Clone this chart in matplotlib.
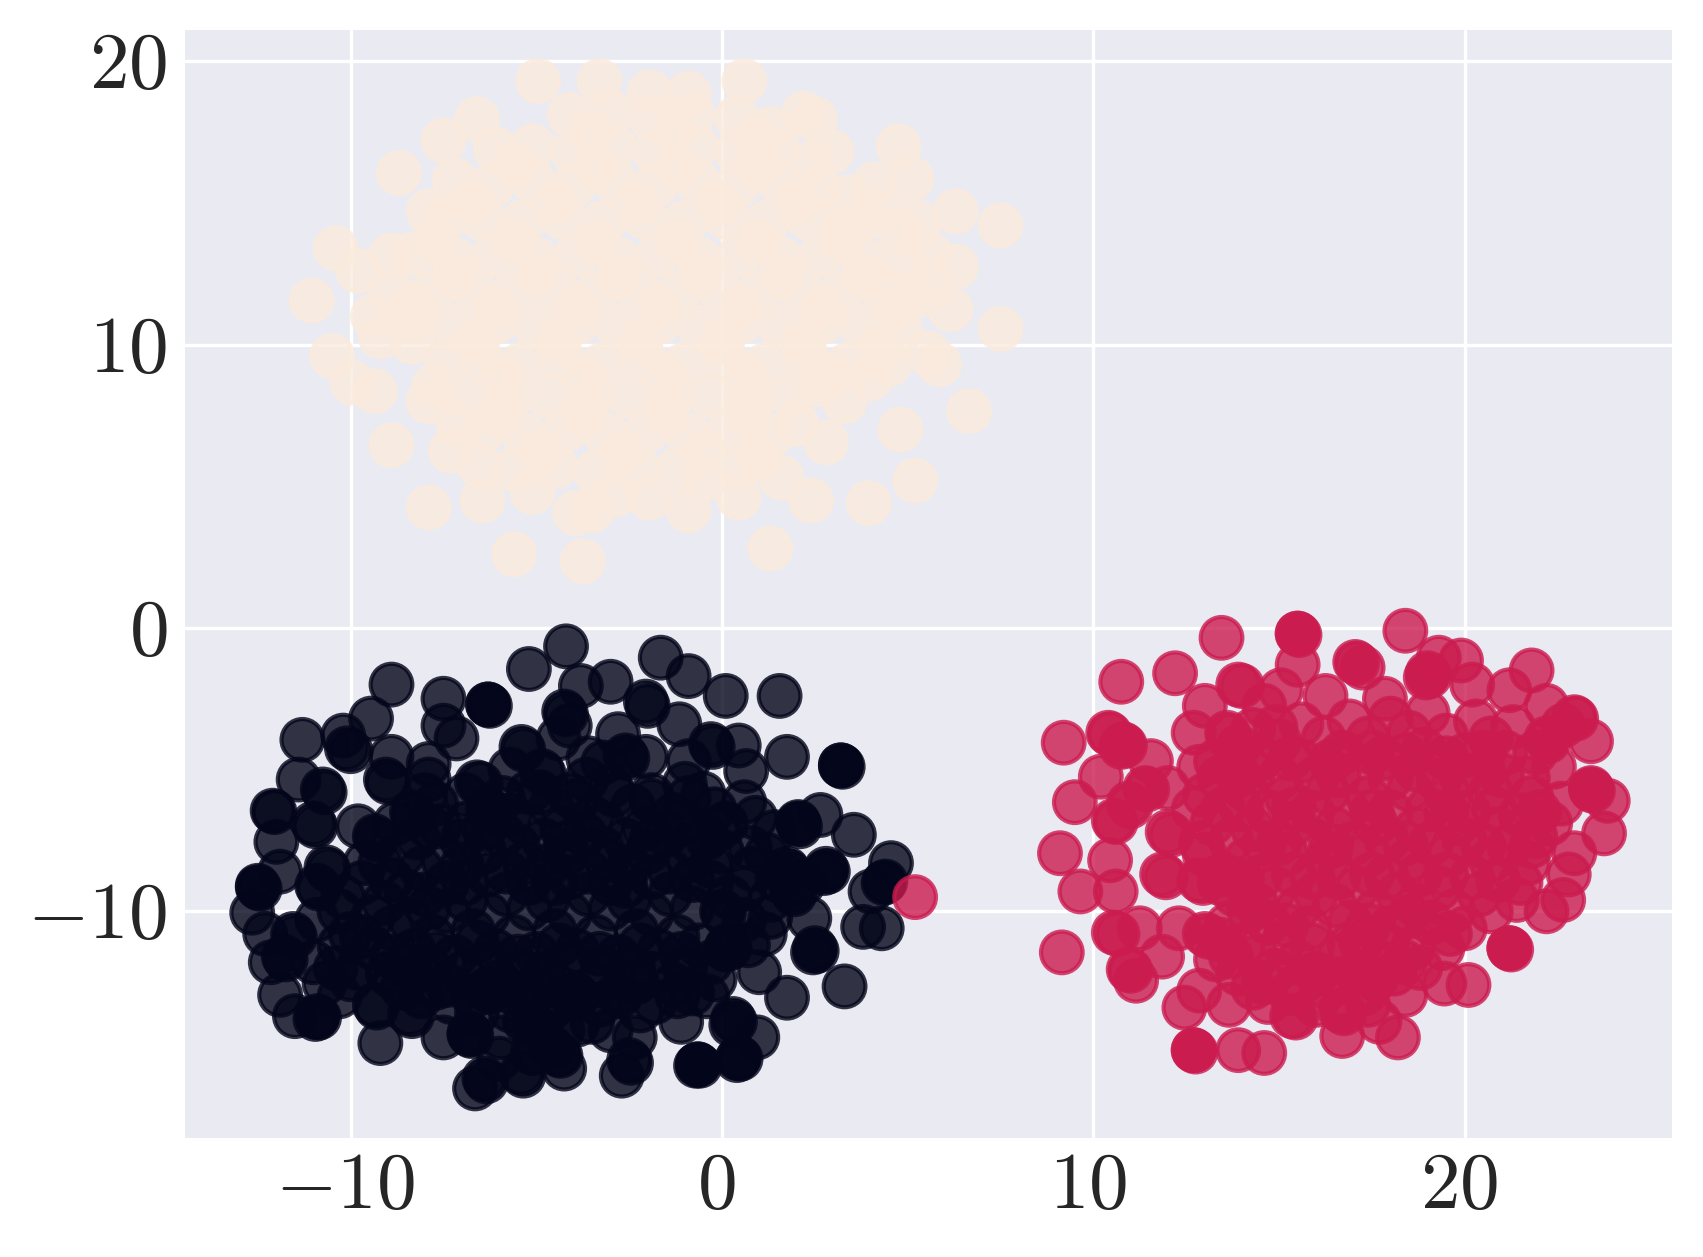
import numpy as np
import matplotlib
matplotlib.use("Agg")
import matplotlib.pyplot as plt
from matplotlib.transforms import ScaledTranslation
import seaborn as sns

# values, repeated pairs are stacked points
dark_edge = [
    (-4.2,-0.65),(-5.2,-1.45),(-1.65,-1.05),(-0.9,-1.7),(-3.8,-2.05),(-3.0,-1.9),(-8.9,-2.0),(-7.5,-2.5),
    (-6.3,-2.7),(-6.3,-2.7),(-6.25,-2.75),(-2.05,-2.6),(-2.0,-2.75),(0.1,-2.4),(1.55,-2.4),(-9.45,-3.2),
    (-11.3,-3.95),(-10.2,-3.8),(-10.1,-4.25),(-10.0,-4.35),(-7.5,-3.45),(-7.15,-3.9),(-4.25,-2.95),(-4.2,-3.05),
    (-4.1,-3.45),(-1.15,-3.4),(-2.8,-3.75),(-5.4,-4.2),(-5.35,-4.3),(-4.4,-3.9),(-0.3,-4.1),(-0.25,-4.2),
    (0.45,-4.15),(1.75,-4.55),(3.2,-4.85),(3.2,-4.85),(3.25,-4.9),(0.65,-5.05),(-8.9,-4.55),(-7.9,-4.8),
    (-2.6,-4.5),(-2.55,-4.6),(-2.05,-4.55),(-3.2,-4.75),(-0.9,-4.7),(-11.4,-5.35),(-10.75,-5.7),(-10.7,-5.8),
    (-9.05,-5.35),(-9.0,-5.45),(-7.9,-5.35),(-6.6,-5.45),(-6.5,-5.5),(-4.85,-5.05),(-4.8,-5.15),(-3.65,-5.35),
    (-0.5,-5.85),(0.6,-6.15),(-12.1,-6.45),(-12.05,-6.5),(-11.0,-6.9),(-10.95,-7.0),(-12.0,-7.55),(-9.8,-7.0),
    (-9.35,-7.35),(-9.3,-7.45),(-8.35,-6.5),(-8.3,-6.6),(-7.9,-7.0),(-6.3,-6.4),(-6.25,-6.5),(2.65,-6.6),
    (2.05,-6.85),(2.05,-6.9),(2.1,-7.0),(3.55,-7.3),(0.75,-7.75),(0.0,-7.9),(4.55,-8.3),(4.4,-8.95),
    (4.35,-9.0),(4.0,-9.3),(-11.9,-8.6),(-12.5,-9.1),(-12.5,-9.15),(-12.45,-9.2),(-10.65,-8.45),(-10.6,-8.55),
    (-10.9,-9.1),(-10.85,-9.2),(-12.65,-10.05),(-12.3,-10.8),(-11.55,-10.8),(-11.5,-10.9),(-12.15,-11.8),(-11.8,-11.6),
    (-11.75,-11.7),(-11.9,-12.95),(-11.5,-13.7),(-10.9,-13.7),(-10.85,-13.75),(-10.95,-13.8),(-10.7,-12.55),(-9.2,-14.65),
    (-9.35,-13.3),(-9.3,-13.4),(-8.4,-13.6),(-8.35,-13.7),(-9.8,-12.0),(-7.5,-14.45),(-6.8,-14.3),(-6.8,-14.35),
    (-6.75,-14.4),(-5.95,-14.45),(-6.65,-16.25),(-6.4,-15.9),(-6.35,-16.0),(-5.4,-15.7),(-5.35,-15.8),(-4.25,-15.55),
    (-4.4,-15.05),(-4.35,-15.1),(-5.0,-14.1),(-4.95,-14.2),(-5.05,-14.3),(-3.5,-13.9),(-6.3,-12.75),(-6.25,-12.85),
    (-3.95,-12.9),(-3.9,-13.0),(-4.0,-13.1),(-2.7,-15.8),(-2.5,-15.25),(-2.45,-15.35),(-2.35,-14.45),(-2.8,-12.9),
    (-2.75,-13.0),(-1.1,-13.9),(-0.65,-15.4),(-0.65,-15.4),(-0.6,-15.45),(-0.7,-15.45),(0.45,-15.15),(0.5,-15.2),
    (0.4,-15.25),(0.95,-14.45),(0.3,-13.8),(0.35,-13.9),(0.25,-14.0),(1.75,-13.05),(3.3,-12.65),(2.5,-11.3),
    (2.55,-11.4),(2.45,-11.45),(1.15,-10.8),(1.0,-12.15),(2.35,-10.25),(3.8,-10.55),(4.3,-10.6),(2.8,-8.5),
    (2.85,-8.6),(2.75,-8.65),(1.75,-8.5),(1.8,-8.6),(1.7,-8.7),(1.9,-9.3),(1.95,-9.4),(0.0,-10.0),
    (0.05,-10.1),(0.15,-11.2),(0.2,-11.3),(0.1,-11.35),
]
dark_core = [
    (-9.6,-8.3),(-8.6,-8.0),(-7.5,-8.2),(-6.4,-7.9),(-5.3,-8.3),(-4.2,-8.0),(-3.1,-8.2),(-2.0,-7.9),(-0.9,-8.2),(0.6,-9.2),
    (-10.2,-9.5),(-9.1,-9.7),(-8.0,-9.4),(-6.9,-9.6),(-5.8,-9.4),(-4.7,-9.6),(-3.6,-9.4),(-2.5,-9.6),(-1.4,-9.4),(-0.3,-9.0),
    (-10.0,-10.8),(-8.9,-10.6),(-7.8,-10.9),(-6.7,-10.7),(-5.6,-10.9),(-4.5,-10.7),(-3.4,-10.9),(-2.3,-10.7),(-1.2,-10.9),(1.3,-9.6),
    (-10.4,-12.0),(-9.0,-12.2),(-7.9,-12.0),(-7.0,-12.2),(-5.4,-12.1),(-4.8,-12.2),(-3.2,-12.0),(-1.9,-12.2),(-1.0,-12.0),(-0.2,-12.4),
    (-8.3,-11.4),(-7.2,-11.6),(-6.1,-11.4),(-5.0,-11.5),(-3.9,-11.4),(-2.8,-11.6),(-1.7,-11.4),(-0.6,-11.2),
    (-8.1,-13.0),(-7.3,-13.2),(-5.2,-13.2),(-4.6,-14.8),(-1.8,-13.2),(-0.8,-12.9),(-6.0,-15.2),(-5.1,-15.0),
    (-8.8,-6.9),(-7.7,-6.2),(-6.9,-6.9),(-5.7,-6.6),(-4.6,-6.3),(-3.5,-6.7),(-2.4,-6.3),(-1.3,-6.6),(-0.2,-6.4),(0.9,-6.7),
    (-8.2,-7.4),(-7.0,-7.5),(-5.9,-7.3),(-4.8,-7.5),(-3.7,-7.3),(-2.6,-7.5),(-1.5,-7.3),(-0.4,-7.4),(1.2,-8.0),(-5.2,-5.8),
    (-4.1,-5.9),(-3.0,-5.6),(-1.9,-5.9),(-1.0,-5.5),(-5.7,-5.0),(-3.6,-4.6),(-9.7,-9.0),(-8.9,-8.9),(-7.4,-9.0),(-6.3,-8.7),
    (-5.2,-9.0),(-4.1,-8.8),(-3.0,-9.0),(-1.9,-8.8),(-0.8,-8.9),(-9.4,-11.3),(-10.9,-10.3),(-10.3,-11.2),(-11.0,-11.8),(-10.3,-13.0),
]
dark_fill = [
    (-6.9,-5.9),(-5.9,-6.0),(-4.9,-5.8),(-3.9,-6.1),(-2.9,-5.9),(-1.9,-6.1),(-0.9,-6.0),(0.1,-6.9),
    (-7.6,-7.0),(-6.4,-7.1),(-5.3,-6.9),(-4.3,-7.1),(-3.2,-6.9),(-2.1,-7.1),(-1.1,-6.9),(-0.1,-7.1),(1.4,-7.2),
    (-8.1,-8.5),(-7.0,-8.4),(-5.8,-8.6),(-4.7,-8.4),(-3.6,-8.6),(-2.5,-8.4),(-1.4,-8.6),(-0.3,-8.4),(0.8,-8.5),
    (-8.5,-9.3),(-7.4,-10.0),(-6.3,-10.1),(-5.2,-9.9),(-4.1,-10.1),(-3.0,-9.9),(-1.9,-10.1),(-0.8,-9.9),(0.6,-10.3),
    (-9.4,-10.2),(-8.4,-10.3),(-8.9,-11.6),(-7.7,-11.5),(-6.6,-11.1),(-5.5,-11.6),(-4.4,-11.2),(-3.3,-11.5),(-2.2,-11.2),(-1.1,-11.5),
    (-7.4,-12.6),(-6.0,-12.5),(-5.0,-12.7),(-3.4,-12.6),(-2.3,-12.5),(-1.3,-12.6),(-4.6,-13.4),(-3.0,-14.2),(-4.3,-14.2),(-5.7,-13.5),
    (-9.2,-8.3),(-7.9,-9.9),(-6.9,-9.0),(-5.5,-7.7),(-4.2,-7.6),(-3.2,-7.8),(-1.9,-7.5),(-0.8,-7.6),(-4.5,-9.0),(-2.6,-9.1),
    (-8.6,-12.7),(-7.7,-12.7),(-6.7,-13.0),(-5.6,-12.9),(-4.5,-12.6),(-3.3,-13.3),(-2.2,-13.5),(-1.2,-13.0),(-0.4,-13.0),(-6.6,-13.6),
    (-5.3,-13.9),(-3.9,-14.0),(-4.8,-13.7),(-8.5,-11.9),(-6.4,-11.9),(-4.2,-11.9),(-2.4,-12.0),(-0.3,-11.8),(0.7,-11.2),(1.3,-10.2),
    (0.2,-9.5),(1.5,-8.9),(2.2,-9.0),(-8.0,-5.9),(-10.3,-10.0),(-9.7,-10.9),(-8.8,-12.4),(-10.0,-12.4),
]
red_edge = [
    (5.2,-9.5),(13.45,-0.35),(15.5,-0.2),(15.5,-0.2),(15.55,-0.25),(18.4,-0.1),(15.5,-1.3),(12.2,-1.6),
    (10.75,-1.9),(13.9,-2.0),(14.0,-2.05),(17.05,-1.2),(17.1,-1.25),(17.25,-1.4),(19.3,-1.05),(19.9,-1.15),
    (19.0,-1.6),(19.05,-1.7),(18.95,-1.75),(21.8,-1.5),(21.2,-2.2),(20.2,-2.0),(16.25,-2.4),(15.05,-2.2),
    (14.6,-2.75),(13.0,-2.75),(17.85,-2.5),(22.2,-2.75),(22.95,-3.15),(23.0,-3.2),(22.65,-3.45),(23.4,-4.0),
    (22.2,-3.9),(22.25,-4.0),(12.7,-3.7),(13.6,-3.7),(13.65,-3.8),(10.4,-3.7),(10.45,-3.75),(10.8,-4.1),
    (10.85,-4.15),(10.75,-4.2),(9.2,-4.05),(11.55,-4.7),(10.2,-5.25),(9.5,-6.15),(10.55,-6.8),(10.6,-6.85),
    (10.95,-6.2),(11.0,-6.3),(11.4,-5.65),(11.45,-5.7),(12.0,-5.65),(12.85,-4.9),(9.1,-7.95),(10.45,-8.2),
    (9.65,-9.3),(10.6,-9.3),(10.55,-10.75),(10.65,-10.8),(11.25,-10.6),(9.15,-11.45),(11.85,-11.6),(10.95,-12.05),
    (11.0,-12.1),(11.15,-12.45),(12.85,-12.8),(12.45,-13.4),(13.65,-13.3),(12.7,-14.9),(12.7,-14.9),(12.75,-14.95),
    (13.9,-14.9),(14.6,-15.0),(16.7,-14.4),(18.2,-14.45),(15.35,-13.7),(15.45,-13.75),(16.65,-13.5),(16.75,-13.6),
    (17.7,-13.9),(18.4,-12.95),(19.45,-12.55),(20.1,-12.6),(21.2,-11.3),(21.2,-11.3),(21.25,-11.35),(22.2,-10.0),
    (22.65,-9.6),(22.8,-8.7),(22.95,-7.95),(23.75,-7.25),(23.85,-6.1),(23.4,-5.65),(23.4,-5.7),(23.45,-5.75),
    (21.9,-7.35),(12.0,-7.2),(12.1,-7.3),(11.85,-8.7),(11.95,-8.8),(12.85,-8.9),(12.95,-9.0),(12.3,-10.6),
    (13.0,-10.8),(13.1,-10.9),
]
red_core = [
    (14.3,-3.6),(15.6,-3.4),(16.9,-3.3),(18.0,-3.2),(19.0,-3.0),(20.3,-3.3),(21.3,-3.5),
    (13.3,-4.7),(14.5,-4.6),(15.6,-4.7),(16.7,-4.4),(17.8,-4.6),(18.9,-4.3),(20.0,-4.5),(21.1,-4.4),(22.4,-4.9),
    (13.0,-5.9),(14.1,-5.7),(15.2,-6.0),(16.3,-5.8),(17.4,-6.0),(18.5,-5.7),(19.6,-6.0),(20.7,-5.8),(21.8,-6.0),(22.6,-6.2),
    (13.2,-6.9),(14.3,-7.1),(15.4,-6.9),(16.5,-7.1),(17.6,-6.9),(18.7,-7.1),(19.8,-6.9),(20.9,-7.1),(22.3,-6.9),
    (13.0,-8.0),(14.1,-8.2),(15.2,-8.0),(16.3,-8.2),(17.4,-8.0),(18.5,-8.2),(19.6,-8.0),(20.7,-8.2),(21.7,-8.3),
    (13.8,-9.4),(14.9,-9.2),(16.0,-9.4),(17.1,-9.2),(18.2,-9.4),(19.3,-9.2),(20.4,-9.4),(21.4,-9.6),
    (13.6,-10.5),(14.7,-10.4),(15.8,-10.6),(16.9,-10.4),(18.0,-10.6),(19.1,-10.4),(20.0,-10.6),
    (13.3,-11.7),(14.4,-11.6),(15.5,-11.8),(16.6,-11.6),(17.7,-11.8),(18.6,-11.3),(19.4,-11.3),
    (14.3,-12.7),(15.3,-12.9),(16.3,-12.7),(17.3,-12.9),(18.1,-12.2),(13.4,-11.0),
    (14.0,-6.4),(15.9,-6.5),(18.0,-6.5),(20.1,-6.5),(21.5,-6.6),(15.0,-7.6),(17.0,-7.6),(19.1,-7.6),(21.2,-7.7),
    (14.5,-8.8),(16.6,-8.8),(18.8,-8.7),(20.9,-8.9),(19.9,-5.2),(18.0,-5.3),(16.0,-5.3),(21.0,-5.2),
    (15.1,-11.1),(17.2,-11.1),(16.0,-12.2),(17.6,-10.0),(19.7,-10.0),(14.2,-10.0),
]
red_fill = [
    (15.0,-4.0),(16.2,-3.9),(17.4,-3.9),(18.5,-3.7),(19.5,-3.8),(20.7,-3.9),(21.9,-4.4),
    (13.9,-5.2),(15.0,-5.3),(16.6,-5.2),(17.2,-5.1),(18.7,-5.0),(19.3,-5.4),(20.5,-5.1),(21.7,-5.3),
    (13.5,-6.4),(14.7,-6.5),(15.4,-6.4),(16.8,-6.4),(17.5,-6.5),(19.0,-6.4),(19.5,-6.5),(20.8,-6.4),(22.0,-6.5),
    (13.7,-7.5),(14.6,-7.6),(15.9,-7.5),(16.4,-7.7),(17.9,-7.5),(18.4,-7.6),(20.0,-7.5),(20.5,-7.7),(21.8,-7.7),
    (13.5,-8.7),(14.0,-8.9),(15.4,-8.7),(15.9,-8.8),(17.5,-8.7),(17.9,-8.8),(19.5,-8.7),(20.2,-8.8),(21.5,-9.0),
    (14.4,-9.8),(15.5,-9.9),(16.5,-9.8),(18.7,-9.8),(20.7,-10.0),(15.2,-10.5),(17.4,-10.5),(18.5,-10.2),(19.6,-10.8),
    (14.0,-11.2),(14.9,-12.1),(15.9,-11.2),(16.9,-11.2),(17.9,-11.2),(17.1,-12.2),(18.4,-11.8),(14.7,-13.2),(16.0,-13.3),(17.4,-13.3),
    (13.9,-4.2),(14.9,-3.5),(13.4,-5.3),(14.3,-5.1),(15.3,-4.6),(16.4,-4.7),(17.5,-4.4),(18.4,-4.5),(19.5,-4.6),(20.5,-4.4),
    (12.7,-6.4),(12.9,-7.6),(13.4,-9.0),(13.7,-11.6),(14.6,-12.5),(15.6,-12.5),(16.6,-12.4),(17.6,-12.4),(13.9,-12.2),(18.8,-12.0),
]
cream_edge = [
    (-4.95,19.3),(-3.3,19.3),(-1.95,18.9),(-0.9,18.85),(0.6,19.3),(-6.6,17.95),(-7.5,17.2),(-8.7,16.05),
    (2.2,18.15),(2.5,17.95),(2.95,16.8),(4.75,17.0),(5.1,15.85),(4.1,15.65),(6.3,14.7),(7.5,14.2),
    (-10.4,13.4),(-9.8,12.6),(-8.9,13.15),(-7.9,14.7),(-11.05,11.55),(6.3,12.75),(5.7,12.0),(4.8,13.9),
    (6.15,11.25),(7.5,10.55),(-10.5,9.6),(-9.2,10.3),(-8.35,10.1),(-9.95,8.65),(-9.35,8.35),(-7.75,8.55),
    (-7.9,8.0),(5.85,9.3),(5.55,9.7),(6.65,7.65),(4.8,7.0),(-8.9,6.45),(-7.3,6.25),(-7.9,4.25),
    (-6.45,4.5),(-5.1,4.8),(-3.95,4.05),(-3.5,4.15),(-5.6,2.6),(-3.75,2.35),(-1.95,4.6),(-0.9,4.15),
    (0.45,4.6),(1.3,2.8),(2.4,4.5),(3.95,4.4),(5.2,5.2),(2.8,6.55),(3.3,8.0),(1.6,5.3),
    (-2.9,4.7),(-0.45,5.3),
]
cream_core = [
    (-4.1,18.1),(-3.0,18.2),(-1.9,18.0),(-0.8,18.1),(0.4,18.0),(1.3,17.6),
    (-6.1,16.9),(-5.1,17.0),(-4.0,16.8),(-2.9,17.0),(-1.8,16.8),(-0.7,17.0),(0.4,16.8),(1.5,16.9),(2.4,16.4),
    (-7.2,15.8),(-6.2,15.6),(-5.1,15.8),(-4.0,15.6),(-2.9,15.8),(-1.8,15.6),(-0.7,15.8),(0.4,15.6),(1.5,15.8),(2.6,15.5),(3.4,15.2),
    (-7.5,14.4),(-6.5,14.5),(-5.4,14.3),(-4.3,14.5),(-3.2,14.3),(-2.1,14.5),(-1.0,14.3),(0.1,14.5),(1.2,14.3),(2.3,14.5),(3.4,14.2),(4.4,14.7),(5.3,14.3),
    (-8.3,13.2),(-7.2,13.0),(-6.1,13.2),(-5.0,13.0),(-3.9,13.2),(-2.8,13.0),(-1.7,13.2),(-0.6,13.0),(0.5,13.2),(1.6,13.0),(2.7,13.2),(3.8,13.0),(4.9,12.9),(5.6,13.2),
    (-8.9,11.9),(-7.8,11.8),(-6.7,12.0),(-5.6,11.8),(-4.5,12.0),(-3.4,11.8),(-2.3,12.0),(-1.2,11.8),(-0.1,12.0),(1.0,11.8),(2.1,12.0),(3.2,11.8),(4.3,12.0),(5.2,11.7),
    (-9.4,11.0),(-8.3,10.9),(-7.2,10.6),(-6.1,10.8),(-5.0,10.6),(-3.9,10.8),(-2.8,10.6),(-1.7,10.8),(-0.6,10.6),(0.5,10.8),(1.6,10.6),(2.7,10.8),(3.8,10.6),(4.8,10.5),
    (-7.4,9.4),(-6.5,9.5),(-5.4,9.3),(-4.3,9.5),(-3.2,9.3),(-2.1,9.5),(-1.0,9.3),(0.1,9.5),(1.2,9.3),(2.3,9.5),(3.4,9.3),(4.5,9.3),
    (-6.9,8.2),(-5.8,8.0),(-4.7,8.2),(-3.6,8.0),(-2.5,8.2),(-1.4,8.0),(-0.3,8.2),(0.8,8.0),(1.9,8.2),(2.6,8.6),(4.0,8.8),
    (-6.4,7.0),(-5.3,6.8),(-4.2,7.0),(-3.1,6.8),(-2.0,7.0),(-0.9,6.8),(0.2,7.0),(1.3,6.8),(2.0,7.2),(-7.1,7.2),
    (-5.6,5.6),(-4.5,5.7),(-3.4,5.5),(-2.3,5.7),(-1.2,5.6),(0.5,5.7),(1.0,6.0),(-6.5,5.7),
]
cream_fill = [
    (-3.5,17.5),(-1.3,17.5),(0.9,17.3),(-5.6,16.3),(-3.4,16.2),(-1.2,16.2),(1.0,16.2),(-6.7,15.0),(-4.5,15.0),(-2.3,15.0),
    (-0.1,15.0),(2.0,15.0),(3.9,14.5),(-7.7,13.7),(-5.6,13.7),(-3.4,13.6),(-1.2,13.7),(1.0,13.6),(3.2,13.7),(-7.2,12.4),
    (-5.0,12.5),(-2.8,12.4),(-0.6,12.5),(1.6,12.4),(3.8,12.4),(-8.3,11.4),(-6.1,11.3),(-3.9,11.3),(-1.7,11.3),(0.5,11.3),
    (2.7,11.3),(4.7,11.3),(-6.6,10.1),(-4.4,10.1),(-2.2,10.1),(0.0,10.1),(2.2,10.1),(4.3,10.0),(-5.9,8.8),(-3.7,8.8),
    (-1.5,8.8),(0.7,8.8),(2.9,8.9),(-5.9,7.5),(-3.7,7.5),(-1.5,7.5),(0.7,7.5),(-4.9,6.2),(-2.7,6.2),(-0.5,6.2),
]
xtick_values = [-10, 0, 10, 20]
ytick_values = [-10, 0, 10, 20]
xtick_labels = ["$-10$", "$0$", "$10$", "$20$"]
ytick_labels = ["$-10$", "$0$", "$10$", "$20$"]


def main():
    sns.set_style("darkgrid")
    plt.rcParams["mathtext.fontset"] = "cm"

    dark = np.array(dark_edge + dark_core + dark_fill)
    red = np.array(red_edge + red_core + red_fill)
    cream = np.array(cream_edge + cream_core + cream_fill)
    points = np.vstack([dark, cream, red])
    labels = [0] * len(dark) + [2] * len(cream) + [1] * len(red)

    fig = plt.figure(figsize=(1703 / 300, 1257 / 300), dpi=300)
    ax = fig.add_axes([185 / 1703, 119 / 1257, 1487 / 1703, 1108 / 1257])
    ax.scatter(points[:, 0], points[:, 1], c=labels, cmap="rocket", s=100, alpha=0.8)

    ax.set_xlim(-14.46, 25.58)
    ax.set_ylim(-18.0, 21.1)
    ax.set_xticks(xtick_values, xtick_labels)
    ax.set_yticks(ytick_values, ytick_labels)
    ax.tick_params(axis="x", labelsize=19, pad=-1)
    ax.tick_params(axis="y", labelsize=19, pad=0.8)
    for side in ax.spines.values():
        side.set_visible(False)

    # nudge the labels to where the reference has them
    shift_y = ScaledTranslation(0, 0.7 / 72, fig.dpi_scale_trans)
    for label in ax.get_yticklabels():
        label.set_transform(label.get_transform() + shift_y)
    shift_x = ScaledTranslation(-1.3 / 72, 0, fig.dpi_scale_trans)
    for label in ax.get_xticklabels():
        label.set_transform(label.get_transform() + shift_x)

    fig.savefig("out.png", dpi=300)
    plt.close(fig)


if __name__ == "__main__":
    main()
